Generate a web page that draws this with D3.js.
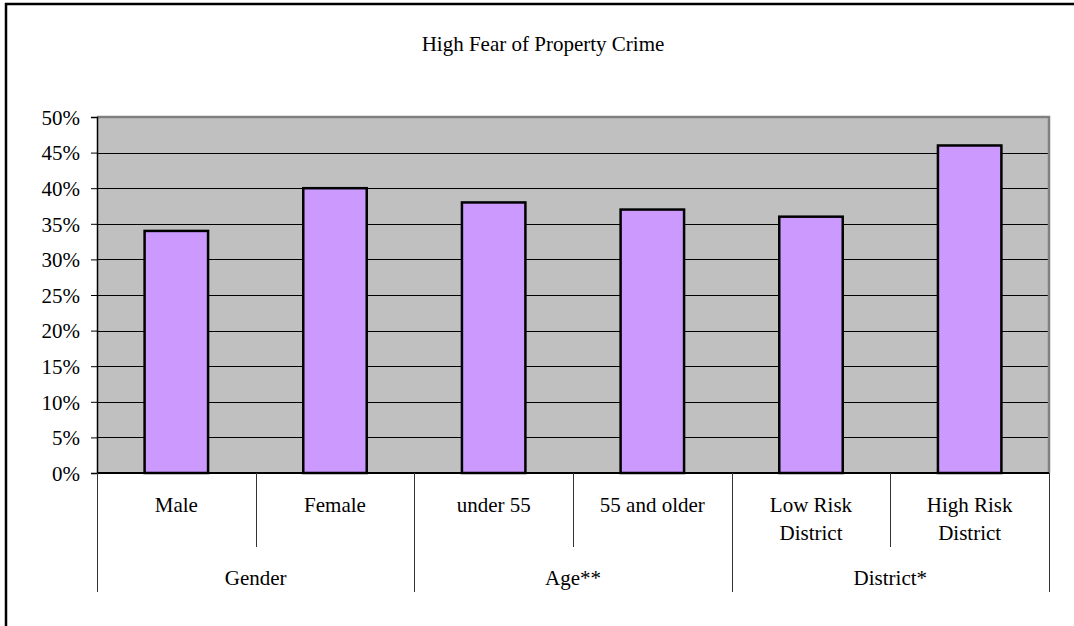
<!DOCTYPE html>
<html><head><meta charset="utf-8">
<script src="https://cdn.jsdelivr.net/npm/d3@7"></script>
<style>body{margin:0;background:#fff}svg{display:block}svg text{font-family:'Liberation Serif','Times New Roman',serif !important;font-size:21px;fill:#000}</style>
</head><body><svg id="c" width="1074" height="626"></svg>
<script>
const title = "High Fear of Property Crime";
const categories = ["Male","Female","under 55","55 and older","Low Risk\nDistrict","High Risk\nDistrict"];
const groups = ["Gender","Age**","District*"];
const groupSizes = [2,2,2];
const values = [0.34,0.40,0.38,0.37,0.36,0.46];
const yTicks = [0,0.05,0.10,0.15,0.20,0.25,0.30,0.35,0.40,0.45,0.50];

const svg = d3.select("#c");
const L = 97, R = 1049, T = 117, B = 473;
// outer border
svg.append("rect").attr("x",6).attr("y",4).attr("width",1200).attr("height",800)
  .attr("fill","none").attr("stroke","#000").attr("stroke-width",2.5);
svg.append("text").attr("x",543).attr("y",51).attr("text-anchor","middle").text(title);

const x = d3.scaleBand().domain(d3.range(categories.length)).range([L,R]).paddingInner(0.6).paddingOuter(0.3);
const xb = d3.scaleBand().domain(d3.range(categories.length)).range([L,R]);
const y = d3.scaleLinear().domain([0,0.5]).range([B,T]);

svg.append("rect").attr("x",L).attr("y",T).attr("width",R-L).attr("height",B-T).attr("fill","#C0C0C0");
// gridlines
svg.append("g").selectAll("line").data(yTicks.slice(1,-1)).join("line")
  .attr("x1",L).attr("x2",R).attr("y1",d=>Math.round(y(d))+0.5).attr("y2",d=>Math.round(y(d))+0.5)
  .attr("stroke","#000").attr("stroke-width",1);
// plot border top/right
svg.append("path").attr("d",`M${L},${T}H${R}V${B}`).attr("fill","none").attr("stroke","#808080").attr("stroke-width",2.5);

// bars
svg.append("g").selectAll("rect").data(values).join("rect")
  .attr("x",(d,i)=>x(i)).attr("width",x.bandwidth())
  .attr("y",d=>y(d)).attr("height",d=>B-y(d))
  .attr("fill","#CC99FF").attr("stroke","#000").attr("stroke-width",2.5);

// y axis
const ya = svg.append("g").attr("transform",`translate(${L},0)`)
  .call(d3.axisLeft(y).tickValues(yTicks).tickFormat(d3.format(".0%")).tickSize(6).tickPadding(11));
ya.attr("font-family",null).attr("font-size",null);
ya.select(".domain").attr("stroke","#000").attr("stroke-width",1.5);
ya.selectAll(".tick line").attr("stroke","#000");
ya.selectAll(".tick text").attr("fill","#000").attr("dy","0.35em");

// x baseline
svg.append("line").attr("x1",L).attr("x2",R).attr("y1",B).attr("y2",B).attr("stroke","#000").attr("stroke-width",2);

// category dividers
const inner = [], outer = [L];
let idx = 0;
groupSizes.forEach((n,g)=>{ for(let k=1;k<n;k++) inner.push(xb(idx+k)); idx+=n; outer.push(idx<categories.length?xb(idx):R); });
svg.append("g").selectAll("line").data(inner).join("line")
  .attr("x1",d=>Math.round(d)+0.5).attr("x2",d=>Math.round(d)+0.5).attr("y1",B).attr("y2",547).attr("stroke","#333").attr("stroke-width",1);
svg.append("g").selectAll("line").data(outer).join("line")
  .attr("x1",d=>Math.round(d)+0.5).attr("x2",d=>Math.round(d)+0.5).attr("y1",B).attr("y2",592).attr("stroke","#333").attr("stroke-width",1);

// category labels
categories.forEach((c,i)=>{
  const lines = c.split("\n");
  const t = svg.append("text").attr("text-anchor","middle").attr("x",xb(i)+xb.bandwidth()/2).attr("y",512);
  lines.forEach((ln,j)=>t.append("tspan").attr("x",xb(i)+xb.bandwidth()/2).attr("dy",j?28:0).text(ln));
});
idx = 0;
groups.forEach((g,gi)=>{
  const x0 = xb(idx), x1 = xb(idx+groupSizes[gi]-1)+xb.bandwidth();
  svg.append("text").attr("text-anchor","middle").attr("x",(x0+x1)/2).attr("y",585).text(g);
  idx += groupSizes[gi];
});
</script></body></html>
